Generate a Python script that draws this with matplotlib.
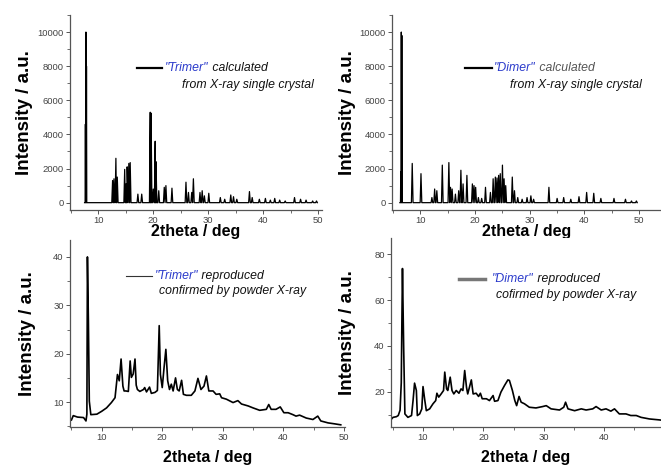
import numpy as np
import matplotlib
matplotlib.use("Agg")
import matplotlib.pyplot as plt
from matplotlib.lines import Line2D

plt.rcParams['font.family'] = ['Liberation Sans', 'DejaVu Sans']

# ---------------- data ----------------
# Trimer, calculated from single crystal: peak positions (2theta) and heights
trimer_calc_pos = [7.65, 7.75, 7.85, 12.6, 12.85, 13.2, 13.45, 14.8, 15.05, 15.25, 15.55, 15.8,
                   17.2, 17.9, 19.45, 19.6, 20.0, 20.35, 20.5, 21.0, 22.0, 22.3, 23.4,
                   25.95, 26.4, 27.0, 27.3, 28.5, 28.9, 29.3, 30.1, 32.2, 33.0, 34.1, 34.6,
                   35.2, 37.5, 38.0, 39.3, 40.4, 41.3, 42.1, 43.0, 44.0, 45.7, 46.8, 47.8,
                   49.0, 49.7]
trimer_calc_int = [4600, 10000, 8000, 1300, 1400, 2600, 1500, 1950, 1100, 2100, 2300, 2350,
                   500, 500, 5300, 5250, 800, 3600, 2400, 700, 900, 1000, 850,
                   1200, 600, 600, 1400, 600, 700, 400, 550, 300, 200, 450, 350,
                   200, 650, 300, 200, 250, 150, 250, 150, 100, 300, 200, 150,
                   100, 100]

# Dimer, calculated from single crystal
dimer_calc_pos = [6.4, 6.5, 6.6, 8.5, 10.1, 12.1, 12.6, 13.0, 14.0, 15.2, 15.5, 15.8, 16.4, 17.0,
                  17.4, 17.8, 18.5, 19.5, 19.8, 20.1, 20.6, 21.2, 21.9, 22.8, 23.3, 23.7, 24.0,
                  24.3, 24.6, 25.0, 25.3, 25.6, 26.8, 27.2, 27.8, 28.6, 29.5, 30.2, 30.7,
                  33.5, 35.0, 36.2, 37.5, 39.0, 40.4, 41.7, 43.0, 45.4, 47.5, 48.6, 49.5]
dimer_calc_int = [1800, 10000, 9800, 2300, 1700, 300, 800, 700, 2200, 2350, 900, 800, 500, 700,
                  1900, 1100, 1600, 1100, 1000, 900, 300, 250, 900, 600, 1400, 1500, 1450,
                  1600, 1700, 2200, 1400, 1000, 1500, 700, 300, 200, 300, 400, 200,
                  900, 250, 300, 200, 350, 600, 550, 250, 250, 200, 100, 100]

# Trimer, powder pattern (vertices of the trace)
trimer_pow_x = [5.0, 5.3, 6.0, 7.0, 7.4, 7.55, 7.64, 7.8, 7.95, 8.2, 9.2, 10.0, 10.8, 11.6, 12.2,
                12.6, 12.9, 13.2, 13.5, 13.7, 14.0, 14.4, 14.7, 14.9, 15.2, 15.5, 15.7, 15.9,
                16.3, 16.9, 17.1, 17.4, 17.9, 18.2, 18.8, 19.2, 19.5, 19.7, 20.0, 20.3, 20.6,
                20.9, 21.2, 21.5, 21.8, 22.2, 22.5, 22.8, 23.2, 23.5, 24.0, 24.8, 25.4, 25.9,
                26.4, 26.9, 27.3, 27.7, 28.4, 28.9, 29.5, 29.8, 30.6, 31.7, 32.5, 33.1, 34.2,
                35.0, 36.1, 37.2, 37.6, 38.0, 38.8, 39.5, 40.1, 40.8, 41.6, 42.1, 42.7, 43.8,
                44.9, 45.7, 46.2, 47.4, 48.5, 49.5]
trimer_pow_y = [6.3, 7.2, 6.9, 6.8, 6.1, 7.5, 40.0, 26.8, 10.2, 7.4, 7.5, 8.1, 8.8, 9.9, 10.9,
                15.7, 14.4, 18.9, 13.3, 12.3, 12.3, 12.2, 18.5, 15.1, 15.8, 18.9, 13.5, 12.6,
                12.2, 12.6, 13.0, 12.1, 13.1, 11.8, 12.0, 12.4, 25.8, 15.7, 13.0, 17.1, 20.9,
                14.4, 12.6, 13.7, 12.3, 15.0, 12.6, 12.3, 14.5, 11.6, 11.4, 11.4, 12.3, 14.9,
                12.6, 13.3, 15.4, 12.3, 12.3, 11.6, 11.7, 10.9, 10.6, 9.9, 10.3, 9.6, 9.2,
                8.8, 8.3, 8.5, 9.5, 8.5, 8.5, 9.0, 7.8, 7.8, 7.4, 7.1, 7.3, 6.7,
                6.4, 7.1, 6.1, 5.7, 5.5, 5.3]

# Dimer, powder pattern (vertices of the trace)
dimer_pow_x = [4.8, 5.04, 5.6, 5.9, 6.2, 6.4, 6.5, 6.6, 6.8, 7.0, 7.5, 8.1, 8.35, 8.6, 8.9, 9.06,
               9.45, 9.8, 10.0, 10.3, 10.55, 11.1, 11.65, 12.1, 12.3, 12.6, 13.0, 13.4, 13.6,
               13.9, 14.1, 14.5, 14.8, 15.1, 15.5, 15.95, 16.3, 16.6, 16.9, 17.2, 17.4, 18.0,
               18.3, 18.8, 19.2, 19.5, 19.8, 20.5, 21.0, 21.6, 21.85, 22.4, 22.9, 23.5, 24.05,
               24.3, 24.8, 25.2, 25.5, 25.9, 26.25, 26.8, 27.6, 28.7, 29.8, 30.4, 31.2, 32.6,
               33.3, 33.6, 34.0, 35.1, 36.2, 37.0, 38.1, 38.65, 39.5, 40.3, 41.1, 41.7, 42.5,
               43.6, 44.4, 45.3, 46.1, 47.5, 49.1, 50.0]
dimer_pow_y = [8.2, 8.9, 9.2, 9.7, 12.0, 24.0, 50.0, 73.7, 38.8, 10.4, 8.9, 9.7, 16.2, 23.8, 20.6,
               9.7, 10.4, 12.6, 22.3, 16.2, 11.8, 12.6, 14.8, 16.2, 19.4, 17.7, 19.1, 20.6, 28.6,
               21.3, 20.6, 26.4, 20.6, 19.1, 20.6, 19.4, 21.3, 20.6, 29.3, 22.0, 19.1, 25.2,
               19.1, 19.4, 18.0, 19.4, 17.0, 17.0, 16.2, 18.4, 15.9, 16.2, 19.9, 22.8, 25.2,
               25.0, 20.6, 16.2, 14.0, 18.0, 15.5, 14.8, 13.3, 13.0, 13.6, 14.0, 12.6, 12.1,
               13.3, 15.5, 12.6, 11.8, 12.6, 12.1, 12.6, 13.6, 12.1, 12.6, 11.6, 12.6, 10.4,
               10.4, 9.7, 9.7, 8.9, 8.2, 7.8, 7.5]

x_ticks = [10, 20, 30, 40, 50]
x_ticks_clipped = [10, 20, 30, 40]
calc_yticks = [0, 2000, 4000, 6000, 8000, 10000]
trimer_pow_yticks = [10, 20, 30, 40]
dimer_pow_yticks = [20, 40, 60, 80]

# ---------------- helpers ----------------
W, H = 661, 468
fig = plt.figure(figsize=(W / 100, H / 100), dpi=100)


def px_axes(left, right, top, bottom):
    return fig.add_axes([left / W, (H - bottom) / H, (right - left) / W, (bottom - top) / H])


def stick_profile(pos, inten, hw=0.15):
    xs, ys = [], []
    for p, h in sorted(zip(pos, inten)):
        xs += [p - hw, p, p + hw]
        ys += [0, h, 0]
    order = np.argsort(xs, kind='stable')
    return np.asarray(xs)[order], np.asarray(ys)[order]


def style(ax, xlim, ylim, xticks, yticks, yminor, wpx, hpx, ylab_dx, xlab_dy):
    ax.set_xlim(*xlim)
    ax.set_ylim(*ylim)
    for s in ['top', 'right']:
        ax.spines[s].set_visible(False)
    for s in ['left', 'bottom']:
        ax.spines[s].set_color('#555555')
        ax.spines[s].set_linewidth(0.9)
    ax.set_xticks(xticks)
    ax.set_xticks([v for v in np.arange(5, 51, 5) if xlim[0] <= v <= xlim[1]], minor=True)
    ax.set_yticks(yticks)
    ax.set_yticks(yminor, minor=True)
    ax.tick_params(which='major', direction='out', length=3, width=0.7, colors='#555555',
                   labelsize=6.8, labelcolor='#444444', pad=1.5)
    ax.tick_params(which='minor', direction='out', length=2, width=0.6, colors='#555555')
    ax.set_xlabel('2theta / deg', fontsize=11.5, fontweight='bold')
    ax.set_ylabel('Intensity / a.u.', fontsize=13.5, fontweight='bold')
    ax.yaxis.set_label_coords(ylab_dx / wpx, 0.5)
    ax.xaxis.set_label_coords(0.5, -xlab_dy / hpx)


def legend(ax, x0, x1, y, tx, name, rest, tx2, y2, line2, lw=1.6, lc='k', rest_color='#111111'):
    ax.add_line(Line2D([x0, x1], [y, y], transform=ax.transAxes, color=lc, lw=lw, clip_on=False))
    t = ax.text(tx, y, '"' + name + '"', transform=ax.transAxes, color='#2a3acb', fontsize=8.8,
                style='italic', va='center', ha='left')
    ax.annotate(' ' + rest, xy=(1, 0), xycoords=t, va='bottom', ha='left', fontsize=8.8,
                style='italic', color=rest_color)
    ax.text(tx2, y2, line2, transform=ax.transAxes, color='#111111', fontsize=8.8,
            style='italic', va='center', ha='left')


# ---------------- top-left: Trimer calculated ----------------
ax1 = px_axes(70, 322, 15, 210)
x, y = stick_profile(trimer_calc_pos, trimer_calc_int)
ax1.plot(x, y, color='k', lw=0.9)
style(ax1, (4.85, 50.7), (-430, 11000), x_ticks, calc_yticks, np.arange(0, 11001, 1000),
      252, 195, -37, 14)
legend(ax1, 0.266, 0.365, 0.728, 0.377, 'Trimer', 'calculated', 0.444, 0.641,
       'from X-ray single crystal')

# ---------------- top-right: Dimer calculated ----------------
ax2 = px_axes(392, 661, 15, 210)
x, y = stick_profile(dimer_calc_pos, dimer_calc_int)
ax2.plot(x, y, color='k', lw=0.9)
style(ax2, (4.8, 54.0), (-430, 11000), x_ticks, calc_yticks, np.arange(0, 11001, 1000),
      269, 195, -36, 14)
legend(ax2, 0.271, 0.372, 0.728, 0.379, 'Dimer', 'calculated', 0.439, 0.641,
       'from X-ray single crystal', rest_color='#555555')

# ---------------- bottom-left: Trimer powder ----------------
ax3 = px_axes(70, 345, 240, 427)
ax3.plot(trimer_pow_x, trimer_pow_y, color='k', lw=1.2)
style(ax3, (4.76, 50.2), (4.85, 43.5), x_ticks, trimer_pow_yticks, np.arange(5, 45, 5),
      275, 187, -34, 23)
legend(ax3, 0.204, 0.298, 0.807, 0.309, 'Trimer', 'reproduced', 0.324, 0.727,
       'confirmed by powder X-ray', lw=0.8, lc='#333333')

# ---------------- bottom-right: Dimer powder ----------------
ax4 = px_axes(391, 661, 238, 427)
ax4.plot(dimer_pow_x, dimer_pow_y, color='k', lw=1.2)
style(ax4, (4.7, 49.4), (4.7, 87.0), x_ticks_clipped, dimer_pow_yticks, np.arange(10, 90, 10),
      270, 189, -35, 23)
legend(ax4, 0.252, 0.348, 0.781, 0.374, 'Dimer', 'reproduced', 0.389, 0.70,
       'cofirmed by powder X-ray', lw=2.5, lc='#777777')

fig.savefig('out.png', dpi=100)
